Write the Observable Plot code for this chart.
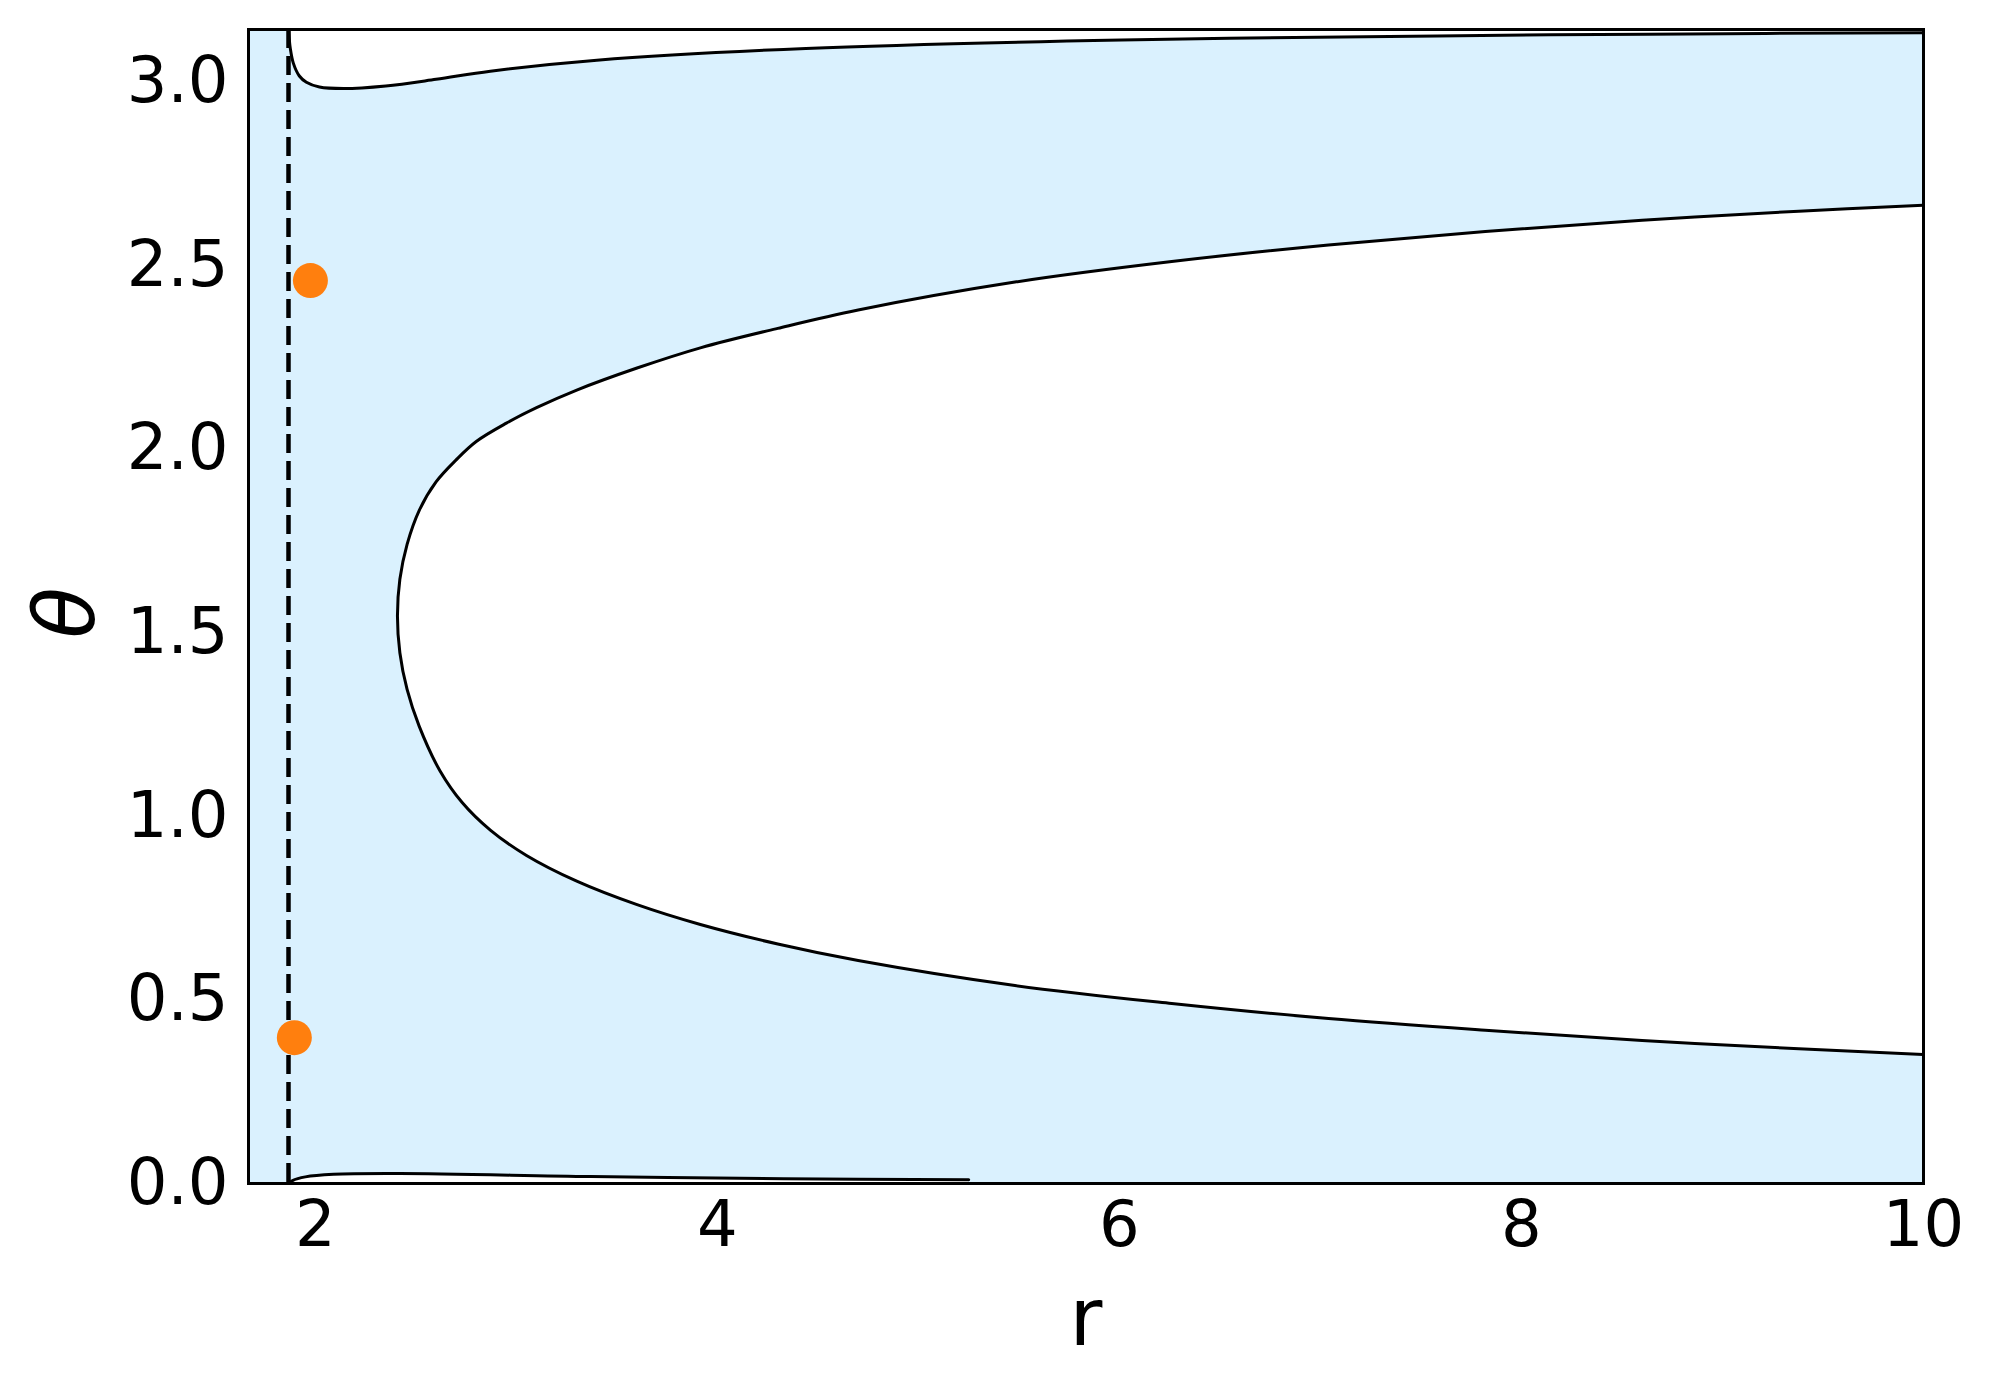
<!DOCTYPE html>
<html>
<head>
<meta charset="utf-8">
<script src="https://cdn.jsdelivr.net/npm/d3@7"></script>
<script src="https://cdn.jsdelivr.net/npm/@observablehq/plot@0.6"></script>
<style>
  html, body { margin: 0; padding: 0; background: #ffffff; }
</style>
</head>
<body>
<div id="chart"></div>
<script>
// Axis ranges and ticks
const rMin = 1.667;
const rMax = 10;
const thetaMax = Math.PI;
const xTicks = [2, 4, 6, 8, 10];
const yTicks = [0, 0.5, 1.0, 1.5, 2.0, 2.5, 3.0];

// Horizon (dashed vertical line)
const horizonR = 1.866;

// Main contour ("tongue"), ordered by theta from lower branch to upper branch
const tongueR = [10.0, 9.38, 8.60, 7.82, 7.04, 6.26, 5.48, 4.70, 4.30, 3.915, 3.60, 3.30, 3.05, 2.87, 2.73, 2.62, 2.516, 2.456, 2.42,
                 2.408,
                 2.42, 2.456, 2.516, 2.60, 2.70, 2.80, 2.95, 3.10, 3.30, 3.60, 3.915, 4.30, 4.70, 5.48, 6.26, 7.04, 7.82, 8.60, 9.38, 10.0];
const tongueTheta = [0.351, 0.367, 0.389, 0.417, 0.449, 0.490, 0.539, 0.607, 0.652, 0.705, 0.759, 0.823, 0.893, 0.962, 1.037, 1.123, 1.245, 1.345, 1.445,
                     1.545,
                     1.645, 1.740, 1.832, 1.910, 1.970, 2.020, 2.070, 2.112, 2.160, 2.220, 2.275, 2.328, 2.378, 2.454, 2.510, 2.555, 2.592, 2.622, 2.647, 2.663];

// Contour near theta = pi
const topR =     [1.866, 1.875, 1.89, 1.92, 1.955, 2.02, 2.14, 2.35, 2.60, 2.87, 3.40, 4.44, 6.01, 7.58, 8.63, 10.0];
const topTheta = [3.1416, 3.09, 3.05, 3.015, 2.998, 2.985, 2.981, 2.988, 3.006, 3.028, 3.058, 3.090, 3.113, 3.124, 3.129, 3.133];

// Contour near theta = 0
const bottomR =     [1.866, 1.886, 1.95, 2.09, 2.42, 3.37, 4.33, 5.25];
const bottomTheta = [0.0, 0.008, 0.018, 0.025, 0.027, 0.019, 0.013, 0.010];

// Orange points
const pointR =     [1.975, 1.895];
const pointTheta = [2.458, 0.397];

const tongue = tongueR.map((r, i) => ({r, theta: tongueTheta[i]}));
const topCurve = topR.map((r, i) => ({r, theta: topTheta[i]}));
const bottomCurve = bottomR.map((r, i) => ({r, theta: bottomTheta[i]}));
const points = pointR.map((r, i) => ({r, theta: pointTheta[i]}));

const blue = "#daf1fe";

const plot = Plot.plot({
  width: 1995,
  height: 1389,
  marginLeft: 248,
  marginRight: 72,
  marginTop: 29,
  marginBottom: 206,
  style: { fontFamily: "DejaVu Sans", fontSize: "64px", background: "#ffffff", color: "#000000" },
  x: { domain: [rMin, rMax], ticks: xTicks, tickSize: 0, tickPadding: 17, label: null, tickFormat: d3.format("d") },
  y: { domain: [0, thetaMax], ticks: yTicks, tickSize: 0, tickPadding: 20, label: null, tickFormat: d3.format(".1f") },
  marks: [
    Plot.frame({ fill: blue }),
    Plot.areaX(tongue, { y: "theta", x1: "r", x2: rMax, fill: "white", curve: "catmull-rom", clip: true }),
    Plot.areaY(topCurve, { x: "r", y1: "theta", y2: thetaMax, fill: "white", curve: "catmull-rom", clip: true }),
    Plot.areaY(bottomCurve, { x: "r", y1: 0, y2: "theta", fill: "white", curve: "catmull-rom", clip: true }),
    Plot.line(tongue, { x: "r", y: "theta", stroke: "black", strokeWidth: 3, curve: "catmull-rom", clip: true }),
    Plot.line(topCurve, { x: "r", y: "theta", stroke: "black", strokeWidth: 3, curve: "catmull-rom", clip: true }),
    Plot.line(bottomCurve, { x: "r", y: "theta", stroke: "black", strokeWidth: 3, curve: "catmull-rom", clip: true }),
    Plot.ruleX([horizonR], { stroke: "black", strokeWidth: 4.5, strokeDasharray: "19,8" }),
    Plot.dot(points, { x: "r", y: "theta", r: 17.5, fill: "#ff7f0e", stroke: null }),
    Plot.frame({ stroke: "black", strokeWidth: 3 }),
    Plot.axisX({ ticks: xTicks, tickSize: 0, tickPadding: 17, label: null, fontSize: 64 }),
    Plot.axisY({ ticks: yTicks, tickSize: 0, tickPadding: 20, label: null, fontSize: 64, tickFormat: d3.format(".1f") }),
    Plot.text(["r"], { frameAnchor: "bottom", dy: 161, fontSize: 80, fill: "black" }),
    Plot.text(["θ"], { frameAnchor: "left", dx: -181, dy: 32, rotate: -90, fontSize: 84, fontStyle: "italic", fill: "black" })
  ]
});

document.getElementById("chart").append(plot);
</script>
</body>
</html>
